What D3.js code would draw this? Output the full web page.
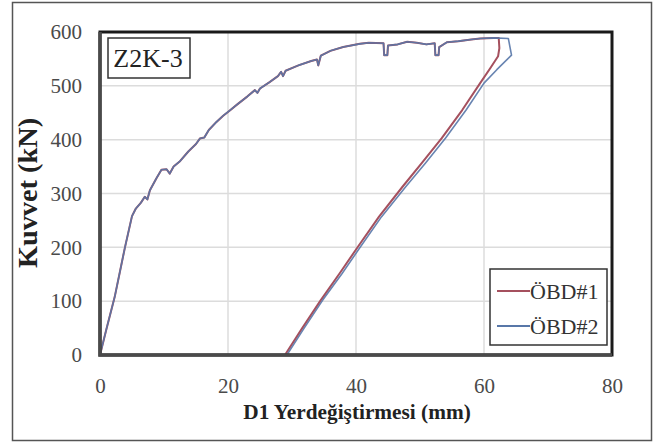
<!DOCTYPE html>
<html><head><meta charset="utf-8">
<script src="https://cdn.jsdelivr.net/npm/d3@7"></script>
</head><body style="margin:0">
<svg id="c" width="655" height="443"></svg>
<script>
const xTicks = [0, 20, 40, 60, 80];
const yTicks = [0, 100, 200, 300, 400, 500, 600];
const seriesNames = ["ÖBD#1", "ÖBD#2"];
const panelLabel = "Z2K-3";
const xTitle = "D1 Yerdeğiştirmesi (mm)";
const yTitle = "Kuvvet (kN)";

// loading branch (mm, kN)
const loading = [[0,0],[1,48],[2.3,108],[3.9,200],[5.0,258],[5.6,272],[6.4,283],[7.0,294],[7.4,289],[7.8,306],[8.8,328],[9.6,344],[10.4,345],[10.9,337],[11.5,350],[12.5,360],[13.8,378],[15.0,392],[15.6,402],[16.3,404],[17.0,418],[18.2,433],[19.2,444],[20.05,452],[21.5,466],[23,480],[24.2,492],[24.6,487],[25,495],[26.5,507],[27.8,518],[28.3,526],[28.6,518],[29,528],[31,538],[33,546],[33.9,549],[34.1,538],[34.5,556],[36,565],[38,572],[40.6,578],[42,580],[44.3,579],[44.4,557],[44.9,557],[45,575],[46.5,577],[48,582],[49.5,580],[51,577],[52.3,579],[52.4,557],[52.9,557],[53,572],[54.2,581],[56,583],[58,586],[59.4,588],[61.5,589]];
const unload1 = [[62.3,589],[62.4,570],[62.2,555],[61,533],[59.4,505],[56.6,455],[53.4,403],[50.3,357],[47.3,313],[43.6,257],[40.3,201],[37.4,151],[34.5,102],[31.6,50],[28.9,0]];
const unload2 = [[63.8,588],[64.3,557],[62.0,530],[60.0,505],[57.2,455],[54.0,403],[50.9,357],[47.8,313],[44.0,257],[40.7,201],[37.8,151],[34.8,102],[31.9,50],[29.2,0]];
const colors = ["#a5505e", "#5877a8"];

const svg = d3.select("#c");
const L = 100, R = 612, T = 32, B = 355;
const x = d3.scaleLinear().domain([0, 80]).range([L, R]);
const y = d3.scaleLinear().domain([0, 600]).range([B, T]);
const FF = "'Times New Roman'";

// outer frame
svg.append("rect").attr("x", 12.5).attr("y", 2.5).attr("width", 639).attr("height", 438)
  .attr("fill", "#fff").attr("stroke", "#555").attr("stroke-width", 1.5);

// gridlines
svg.append("g").selectAll("line").data(yTicks.slice(1, -1)).join("line")
  .attr("x1", L).attr("x2", R).attr("y1", d => y(d)).attr("y2", d => y(d))
  .attr("stroke", "#dcdcdc").attr("stroke-width", 1.5);
svg.append("g").selectAll("line").data(xTicks.slice(1, -1)).join("line")
  .attr("y1", T).attr("y2", B).attr("x1", d => x(d)).attr("x2", d => x(d))
  .attr("stroke", "#dcdcdc").attr("stroke-width", 1.5);

// tick labels through d3 axes
const xa = svg.append("g").attr("transform", `translate(0,${B + 23})`)
  .call(d3.axisBottom(x).tickValues(xTicks).tickSize(0).tickPadding(0));
xa.select(".domain").remove();
xa.selectAll("text").style("font-family", FF).style("font-weight", "400").style("font-size", "21px").attr("fill", "#4a4a4a");
const ya = svg.append("g").attr("transform", `translate(82,0)`)
  .call(d3.axisLeft(y).tickValues(yTicks).tickSize(0).tickPadding(0));
ya.select(".domain").remove();
ya.selectAll("text").style("font-family", FF).style("font-weight", "400").style("font-size", "21px").attr("fill", "#4a4a4a");

// clip
svg.append("clipPath").attr("id", "clip").append("rect")
  .attr("x", L).attr("y", T - 2).attr("width", R - L).attr("height", B - T + 2);

const line = d3.line().x(d => x(d[0])).y(d => y(d[1]));
const s1 = loading.concat(unload1);
const s2 = loading.concat(unload2);
const g = svg.append("g").attr("clip-path", "url(#clip)");
g.append("path").datum(s1).attr("d", line).attr("fill", "none")
  .attr("stroke", colors[0]).attr("stroke-width", 2).attr("stroke-linejoin", "round");
g.append("path").datum(s2).attr("d", line).attr("fill", "none")
  .attr("stroke", colors[1]).attr("stroke-width", 1.6).attr("stroke-linejoin", "round").attr("opacity", 0.9);

// plot border
svg.append("rect").attr("x", L).attr("y", T).attr("width", R - L).attr("height", B - T)
  .attr("fill", "none").attr("stroke", "#1a1a1a").attr("stroke-width", 3);
svg.append("path").attr("d", `M${L},${T}V${B}H${R}`).attr("fill", "none")
  .attr("stroke", "#4a4a4a").attr("stroke-width", 3.5);

// panel label
svg.append("rect").attr("x", 108).attr("y", 38).attr("width", 82).attr("height", 40)
  .attr("fill", "#fff").attr("stroke", "#333").attr("stroke-width", 1.5);
svg.append("text").attr("x", 148).attr("y", 67).attr("text-anchor", "middle")
  .style("font-family", FF).style("font-weight", "400").style("font-size", "26px").attr("fill", "#222").text(panelLabel);

// legend
svg.append("rect").attr("x", 490).attr("y", 269).attr("width", 117).attr("height", 76)
  .attr("fill", "#fff").attr("stroke", "#333").attr("stroke-width", 1.5);
const lg = svg.append("g").selectAll("g").data(seriesNames).join("g")
  .attr("transform", (d, i) => `translate(0,${291 + i * 35})`);
lg.append("line").attr("x1", 497).attr("x2", 530).attr("stroke", (d, i) => colors[i]).attr("stroke-width", 2.2);
lg.append("text").attr("x", 530).attr("y", 7.5).style("font-family", FF).style("font-weight", "400").style("font-size", "22px")
  .attr("fill", "#333").text(d => d);

// axis titles (size fitted to the reference width)
const xt = svg.append("text").attr("x", 357).attr("y", 419).attr("text-anchor", "middle")
  .style("font-family", FF).style("font-size", "20px").style("font-weight", "bold").attr("fill", "#222").text(xTitle);
const xw = xt.node().getComputedTextLength();
xt.style("font-size", (20 * 227 / xw).toFixed(1) + "px");
const yt = svg.append("text").attr("transform", "translate(37,193) rotate(-90)").attr("text-anchor", "middle")
  .style("font-family", FF).style("font-size", "20px").style("font-weight", "bold").attr("fill", "#222").text(yTitle);
const yw = yt.node().getComputedTextLength();
yt.style("font-size", (20 * 150 / yw).toFixed(1) + "px");
</script>
</body></html>
